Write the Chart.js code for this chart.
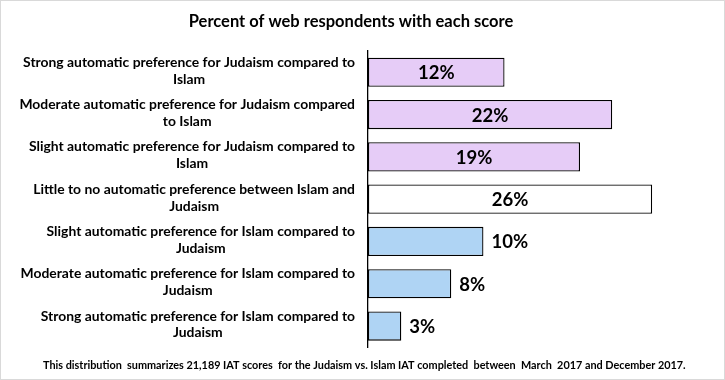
<!DOCTYPE html>
<html>
<head>
<meta charset="utf-8">
<script src="https://cdn.jsdelivr.net/npm/chart.js@4"></script>
<style>
  html, body { margin: 0; padding: 0; background: #fff; }
  #wrap { width: 725px; height: 380px; box-sizing: border-box; border: 1px solid #d9d9d9; position: relative; }
  canvas { display: block; }
</style>
</head>
<body>
<div id="wrap"><canvas id="c"></canvas></div>
<script>
const categories = [
  ["Strong automatic preference for Judaism compared to", "Islam"],
  ["Moderate automatic preference for Judaism compared", "to Islam"],
  ["Slight automatic preference for Judaism compared to", "Islam"],
  ["Little to no automatic preference between Islam and", "Judaism"],
  ["Slight automatic preference for Islam compared to", "Judaism"],
  ["Moderate automatic preference for Islam compared to", "Judaism"],
  ["Strong automatic preference for Islam compared to", "Judaism"]
];
const values = [12.3, 22.0, 19.1, 25.6, 10.4, 7.5, 3.0];
const valueLabels = ["12%", "22%", "19%", "26%", "10%", "8%", "3%"];
const barColors = ["#E6CCF7", "#E6CCF7", "#E6CCF7", "#FFFFFF", "#AFD4F4", "#AFD4F4", "#AFD4F4"];
const titleText = "Percent of web respondents with each score";
const footnote = "This distribution  summarizes 21,189 IAT scores  for the Judaism vs. Islam IAT completed  between  March  2017 and December 2017.";

const FONT = "Lato, 'Open Sans', sans-serif";

const labelPlugin = {
  id: 'customLabels',
  afterDatasetsDraw(chart) {
    const ctx = chart.ctx;
    const yScale = chart.scales.y;
    const meta = chart.getDatasetMeta(0);
    ctx.save();
    // category labels
    ctx.font = "bold 13.9px " + FONT;
    ctx.fillStyle = "#000";
    ctx.textBaseline = "middle";
    ctx.textAlign = "center";
    const rightEdge = chart.chartArea.left - 13;
    const lh = 16.8;
    categories.forEach((lines, i) => {
      const yc = yScale.getPixelForValue(i) - 1.5;
      const mw = Math.max(...lines.map(l => ctx.measureText(l).width));
      const xc = rightEdge - mw / 2;
      const y0 = yc - (lines.length - 1) * lh / 2;
      lines.forEach((l, j) => ctx.fillText(l, xc, y0 + j * lh));
    });
    // value labels
    ctx.font = "bold 18.5px " + FONT;
    meta.data.forEach((bar, i) => {
      const w = bar.x - bar.base;
      const txt = valueLabels[i];
      const tw = ctx.measureText(txt).width;
      if (tw + 20 < w && values[i] > 11) {
        ctx.textAlign = "center";
        ctx.fillText(txt, (bar.x + bar.base) / 2, bar.y + 1);
      } else {
        ctx.textAlign = "left";
        ctx.fillText(txt, bar.x + 8, bar.y + 1);
      }
    });
    // footnote
    ctx.font = "bold 10.85px " + FONT;
    ctx.textAlign = "left";
    ctx.fillText(footnote, 42, chart.chartArea.bottom + 18);
    ctx.restore();
  }
};

new Chart(document.getElementById('c'), {
  type: 'bar',
  data: {
    labels: categories,
    datasets: [{
      data: values,
      backgroundColor: barColors,
      borderColor: "#000",
      borderWidth: 1.3,
      borderSkipped: false,
      barPercentage: 0.69,
      categoryPercentage: 1.0
    }]
  },
  options: {
    indexAxis: 'y',
    responsive: true,
    maintainAspectRatio: false,
    animation: false,
    layout: { padding: { left: 0, right: 23, top: 0, bottom: 31.8 } },
    scales: {
      x: { display: false, min: 0, max: 30 },
      y: {
        grid: { display: false, drawTicks: false },
        border: { display: true, color: "#000", width: 1.3 },
        ticks: { display: false },
        afterFit(scale) { scale.width = 367; }
      }
    },
    plugins: {
      legend: { display: false },
      tooltip: { enabled: false },
      title: {
        display: true,
        text: titleText,
        color: "#000",
        font: { family: FONT, size: 16.5, weight: 'bold' },
        padding: { top: 11, bottom: 19.3 }
      }
    }
  },
  plugins: [labelPlugin]
});
</script>
</body>
</html>
